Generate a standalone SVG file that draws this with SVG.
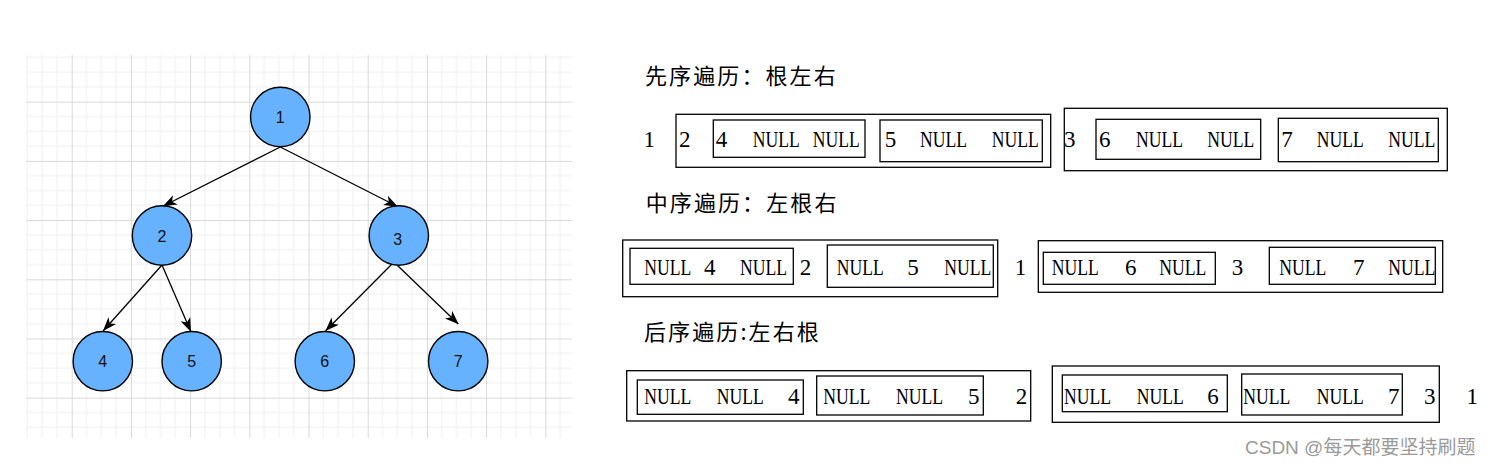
<svg xmlns="http://www.w3.org/2000/svg" width="1490" height="466" viewBox="0 0 1490 466">
<style>
.node circle{fill:#66b2ff;stroke:#000;stroke-width:1.4}
.node text{font-family:"Liberation Sans",Arial,sans-serif;font-size:16px;fill:#111;text-anchor:middle}
.edge{stroke:#000;stroke-width:1.3;fill:none;marker-end:url(#arr)}
.box{fill:none;stroke:#000;stroke-width:1.3}
.t{font-family:"Liberation Serif","Noto Sans CJK SC",serif;font-size:23px;fill:#000}
.h{font-family:"Noto Sans CJK SC","Noto Sans CJK JP",sans-serif;font-size:22px;letter-spacing:2.1px;fill:#000}
.wm{font-family:"Liberation Sans","Noto Sans CJK SC",sans-serif;font-size:19px;fill:#9a9a9a}
</style>
<defs>
<pattern id="grid" patternUnits="userSpaceOnUse" x="12.5" y="42.5" width="59.2" height="59.2">
<path d="M14.8,0V59.2M29.6,0V59.2M44.4,0V59.2M0,14.8H59.2M0,29.6H59.2M0,44.4H59.2" stroke="#f0f0f0" stroke-width="1" fill="none"/>
<path d="M0.5,0V59.2M0,0.5H59.2" stroke="#d9d9d9" stroke-width="1" fill="none"/>
</pattern>
<marker id="arr" markerUnits="userSpaceOnUse" markerWidth="14" markerHeight="12" viewBox="0 0 14 12" refX="13.5" refY="6" orient="auto">
<path d="M0,0.8 L14,6 L0,11.2 L3.8,6 Z" fill="#000"/>
</marker>
</defs>
<rect x="0" y="0" width="1490" height="466" fill="#fff"/>
<rect x="26" y="55" width="546" height="383" fill="url(#grid)"/>

<g id="connectors">
<path class="edge" d="M280.3,147 L163.3,206"/>
<path class="edge" d="M280.3,147 L397.5,206.5"/>
<path class="edge" d="M162,265 L103.3,330.7"/>
<path class="edge" d="M162,265 L190.8,331.5"/>
<path class="edge" d="M397.7,258.3 L325.7,330.7"/>
<path class="edge" d="M397,265 L458.3,324"/>
</g>

<g id="node1" class="node"><circle cx="280.3" cy="117" r="29.7"/><text x="280.3" y="122.7">1</text></g>
<g id="node2" class="node"><circle cx="162" cy="235.5" r="29.7"/><text x="162" y="241.7">2</text></g>
<g id="node3" class="node"><circle cx="398.8" cy="235.5" r="29.7"/><text x="397.7" y="245">3</text></g>
<g id="node4" class="node"><circle cx="102.8" cy="361.2" r="29.7"/><text x="102.8" y="367.3">4</text></g>
<g id="node5" class="node"><circle cx="191.7" cy="361.2" r="29.7"/><text x="191.7" y="367.3">5</text></g>
<g id="node6" class="node"><circle cx="324.8" cy="361.2" r="29.7"/><text x="324.8" y="367.3">6</text></g>
<g id="node7" class="node"><circle cx="458.2" cy="361.2" r="29.7"/><text x="458.2" y="367.3">7</text></g>

<g id="preorder">
<text class="h" x="645" y="83.5">先序遍历：根左右</text>
<rect class="box" x="676" y="114.3" width="374.7" height="53"/>
<rect class="box" x="713.3" y="120" width="151.7" height="37.3"/>
<rect class="box" x="880" y="120" width="162.3" height="41.7"/>
<rect class="box" x="1064.3" y="108.3" width="383" height="62.4"/>
<rect class="box" x="1096" y="119.3" width="164.7" height="40"/>
<rect class="box" x="1278.3" y="118.3" width="160" height="43.4"/>
<text class="t" x="643.4" y="147">1</text>
<text class="t" x="679" y="147">2</text>
<text class="t" x="715.7" y="147">4</text>
<text class="t" x="752.7" y="147" textLength="47" lengthAdjust="spacingAndGlyphs">NULL</text>
<text class="t" x="812.7" y="147" textLength="47" lengthAdjust="spacingAndGlyphs">NULL</text>
<text class="t" x="884.7" y="147">5</text>
<text class="t" x="920" y="147" textLength="47" lengthAdjust="spacingAndGlyphs">NULL</text>
<text class="t" x="991.7" y="147" textLength="47" lengthAdjust="spacingAndGlyphs">NULL</text>
<text class="t" x="1064" y="147">3</text>
<text class="t" x="1099" y="147">6</text>
<text class="t" x="1136" y="147" textLength="47" lengthAdjust="spacingAndGlyphs">NULL</text>
<text class="t" x="1207.3" y="147" textLength="47" lengthAdjust="spacingAndGlyphs">NULL</text>
<text class="t" x="1281.3" y="147">7</text>
<text class="t" x="1316.7" y="147" textLength="47" lengthAdjust="spacingAndGlyphs">NULL</text>
<text class="t" x="1388.3" y="147" textLength="47" lengthAdjust="spacingAndGlyphs">NULL</text>
</g>

<g id="inorder">
<text class="h" x="645.7" y="211">中序遍历：左根右</text>
<rect class="box" x="622.7" y="240" width="375" height="56.7"/>
<rect class="box" x="630" y="248.3" width="163.3" height="36"/>
<rect class="box" x="827.3" y="245" width="166" height="42.3"/>
<rect class="box" x="1038.3" y="240.7" width="404.4" height="51.6"/>
<rect class="box" x="1043.3" y="252.3" width="172" height="32"/>
<rect class="box" x="1269.3" y="247.3" width="166" height="37"/>
<text class="t" x="644.3" y="275" textLength="47" lengthAdjust="spacingAndGlyphs">NULL</text>
<text class="t" x="704" y="275">4</text>
<text class="t" x="740" y="275" textLength="47" lengthAdjust="spacingAndGlyphs">NULL</text>
<text class="t" x="799.7" y="275">2</text>
<text class="t" x="836.7" y="275" textLength="47" lengthAdjust="spacingAndGlyphs">NULL</text>
<text class="t" x="907.3" y="275">5</text>
<text class="t" x="944.3" y="275" textLength="47" lengthAdjust="spacingAndGlyphs">NULL</text>
<text class="t" x="1014.7" y="275">1</text>
<text class="t" x="1051.7" y="275" textLength="47" lengthAdjust="spacingAndGlyphs">NULL</text>
<text class="t" x="1125" y="275">6</text>
<text class="t" x="1159.3" y="275" textLength="47" lengthAdjust="spacingAndGlyphs">NULL</text>
<text class="t" x="1231.7" y="275">3</text>
<text class="t" x="1279.3" y="275" textLength="47" lengthAdjust="spacingAndGlyphs">NULL</text>
<text class="t" x="1353" y="275">7</text>
<text class="t" x="1388.3" y="275" textLength="47" lengthAdjust="spacingAndGlyphs">NULL</text>
</g>

<g id="postorder">
<text class="h" x="644" y="339.5">后序遍历:左右根</text>
<rect class="box" x="626.7" y="370.7" width="404" height="50.3"/>
<rect class="box" x="637.3" y="380" width="166" height="34.3"/>
<rect class="box" x="816.7" y="376" width="166.6" height="39"/>
<rect class="box" x="1052.3" y="366" width="387" height="56.3"/>
<rect class="box" x="1062.3" y="375" width="165" height="36.7"/>
<rect class="box" x="1241.7" y="374" width="160.6" height="41"/>
<text class="t" x="644.3" y="403.5" textLength="47" lengthAdjust="spacingAndGlyphs">NULL</text>
<text class="t" x="716.7" y="403.5" textLength="47" lengthAdjust="spacingAndGlyphs">NULL</text>
<text class="t" x="788" y="403.5">4</text>
<text class="t" x="823.3" y="403.5" textLength="47" lengthAdjust="spacingAndGlyphs">NULL</text>
<text class="t" x="896" y="403.5" textLength="47" lengthAdjust="spacingAndGlyphs">NULL</text>
<text class="t" x="968" y="403.5">5</text>
<text class="t" x="1015.7" y="403.5">2</text>
<text class="t" x="1064" y="403.5" textLength="47" lengthAdjust="spacingAndGlyphs">NULL</text>
<text class="t" x="1136.7" y="403.5" textLength="47" lengthAdjust="spacingAndGlyphs">NULL</text>
<text class="t" x="1207.3" y="403.5">6</text>
<text class="t" x="1243.3" y="403.5" textLength="47" lengthAdjust="spacingAndGlyphs">NULL</text>
<text class="t" x="1316.7" y="403.5" textLength="47" lengthAdjust="spacingAndGlyphs">NULL</text>
<text class="t" x="1388" y="403.5">7</text>
<text class="t" x="1424" y="403.5">3</text>
<text class="t" x="1466.4" y="403.5">1</text>
</g>

<text class="wm" x="1245" y="454">CSDN @每天都要坚持刷题</text>
</svg>
